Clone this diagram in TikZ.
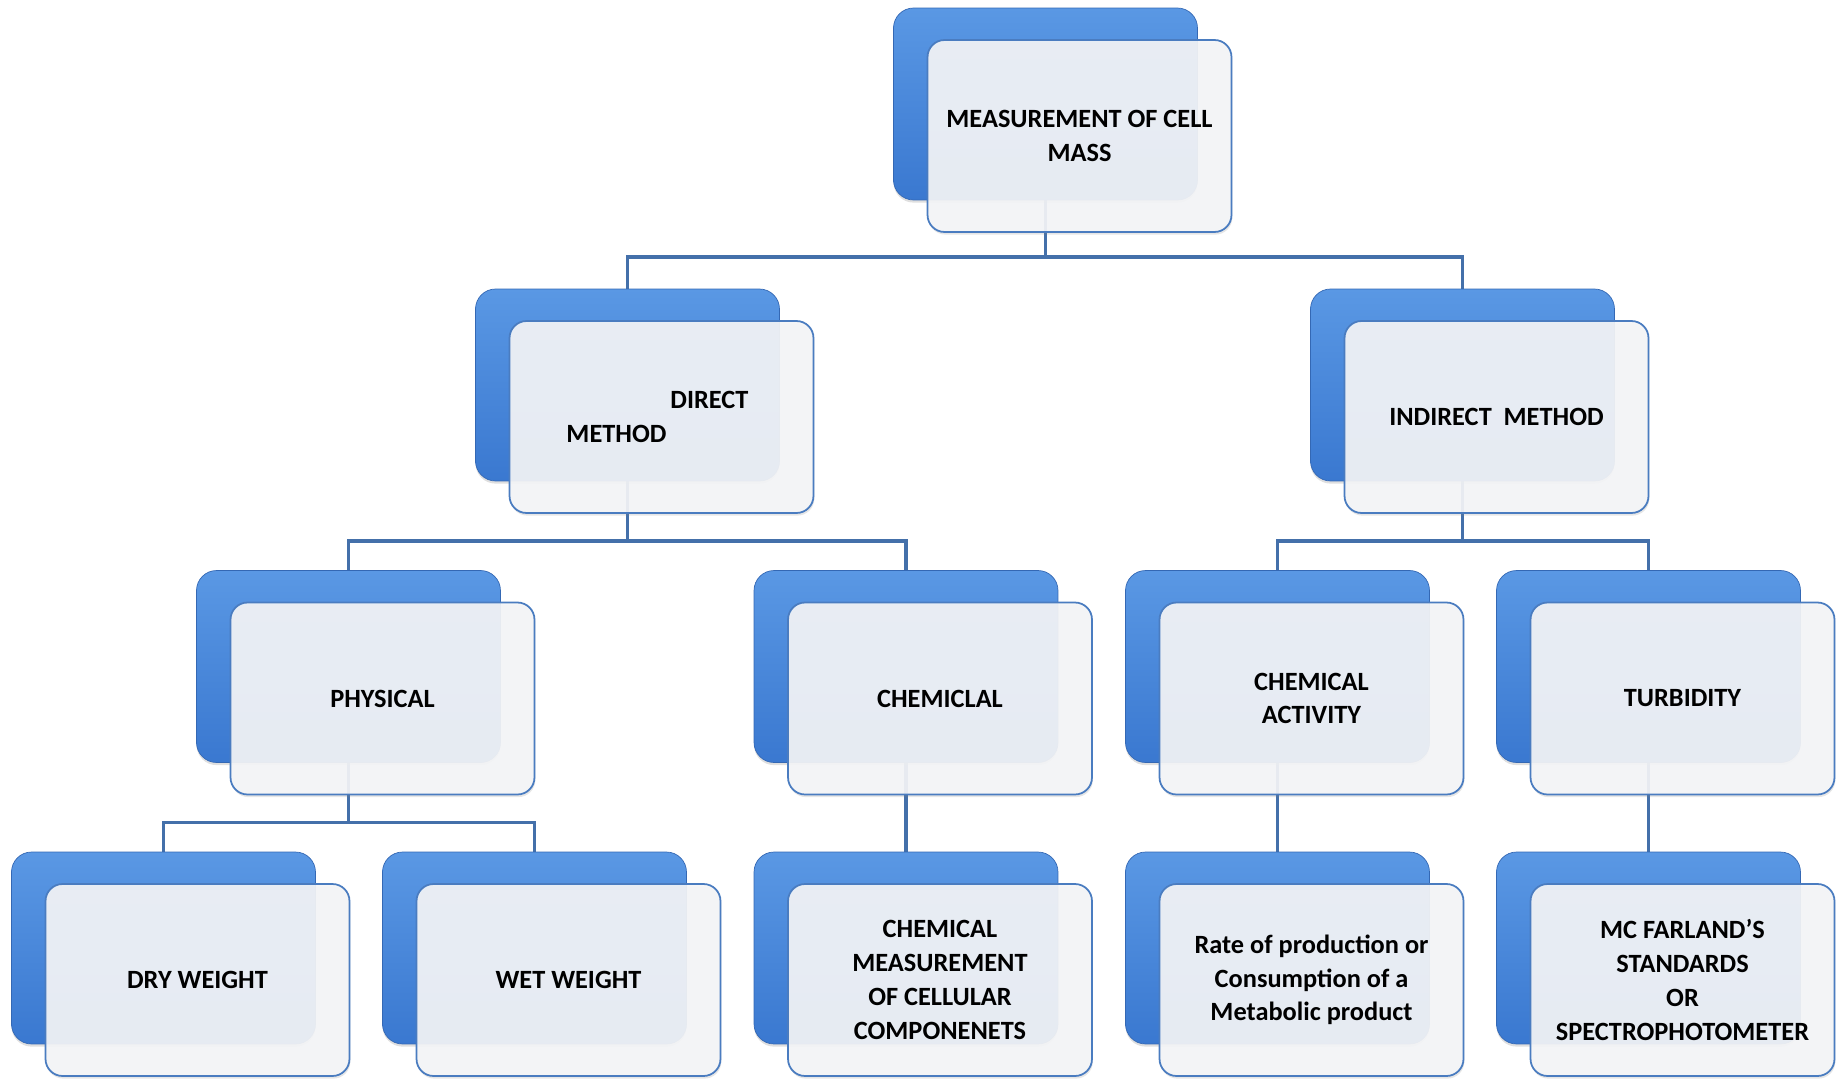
\documentclass[tikz,border=0pt]{standalone}
\usepackage{fontspec}
\setmainfont{Carlito}
\usepackage{xcolor}
\usetikzlibrary{shadows,backgrounds}
\definecolor{cmBlue1}{HTML}{5A98E4}
\definecolor{cmBlue2}{HTML}{3A78D0}
\definecolor{cmEdge}{HTML}{3468B4}
\definecolor{cmPaper}{HTML}{F4F5F7}
\definecolor{cmLine}{HTML}{4A7CC0}
\definecolor{cmWire}{HTML}{4470AA}

\begin{document}
\begin{tikzpicture}[x=0.02cm,y=-0.02cm]
    \pgfmathsetmacro{\w}{6.08}
    \pgfmathsetmacro{\h}{3.84}
    \tikzset{
        back/.style={rounded corners=0.4cm,top color=cmBlue1,bottom color=cmBlue2,draw=cmEdge,thin,
            minimum width=\w cm,minimum height=\h cm,
            drop shadow={opacity=0.25,shadow xshift=0pt,shadow yshift=-1.5pt}},
        front/.style={rounded corners=0.34cm,fill=cmPaper,fill opacity=0.92,text opacity=1,
            draw=cmLine,line width=1pt,minimum width=\w cm,minimum height=\h cm,align=center,
            font=\fontsize{15}{19.2}\selectfont\bfseries,
            drop shadow={opacity=0.2,shadow xshift=0.5pt,shadow yshift=-1.5pt}},
        wire/.style={cmWire,line width=2.2pt}
    }
    \useasboundingbox (0,0) rectangle (1841,1081);
    \foreach \nm/\cx/\cy/\txt in {top/1079.5/136/{MEASUREMENT OF CELL\\MASS},
        ind/1496.5/417/{INDIRECT\ \ METHOD},
        phy/382.5/698.5/{PHYSICAL},
        chm/940/698.5/{CHEMICLAL},
        act/1311.5/698.5/{CHEMICAL\\ACTIVITY},
        tur/1682.5/698.5/{TURBIDITY},
        dry/197.5/980/{DRY WEIGHT},
        wet/568.5/980/{WET WEIGHT},
        cmp/940/980/{CHEMICAL\\MEASUREMENT\\OF CELLULAR\\COMPONENETS},
        rat/1311.5/980/{Rate of production or\\Consumption of a\\Metabolic product},
        mcf/1682.5/980/{MC FARLAND’S\\STANDARDS\\OR\\SPECTROPHOTOMETER}}{
        \node[back] (\nm-b) at (\cx-34,\cy-32) {};
        \node[front] (\nm) at (\cx,\cy) {\txt};
    }
    \node[back] (dir-b) at (627.5,385) {};
    \node[front,align=left] (dir) at (661.5,417) {\hspace*{2.08cm}DIRECT\hspace*{0.16cm}\\METHOD};
    \begin{scope}[on background layer]
        \coordinate (bus1) at (1045.5,257);
        \coordinate (bus2) at (627.5,541);
        \coordinate (bus3) at (1462.5,541);
        \coordinate (bus4) at (348.5,822.5);
        \draw[wire] (top-b.center) |- (bus1);
        \draw[wire] (dir-b.north) |- (bus1) -| (ind-b.north);
        \draw[wire] (dir-b.center) |- (bus2);
        \draw[wire] (phy-b.north) |- (bus2) -| (chm-b.north);
        \draw[wire] (ind-b.center) |- (bus3);
        \draw[wire] (act-b.north) |- (bus3) -| (tur-b.north);
        \draw[wire] (phy-b.center) |- (bus4);
        \draw[wire] (dry-b.north) |- (bus4) -| (wet-b.north);
        \draw[wire] (chm-b.center) -- (cmp-b.north);
        \draw[wire] (act-b.center) -- (rat-b.north);
        \draw[wire] (tur-b.center) -- (mcf-b.north);
    \end{scope}
\end{tikzpicture}
\end{document}
